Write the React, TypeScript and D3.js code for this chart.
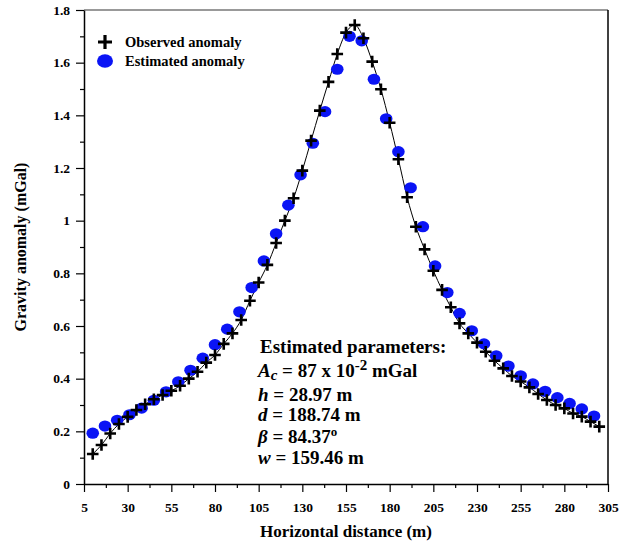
import React, { useEffect, useRef } from "react";
import * as d3 from "d3";

// observed anomaly, every 5 m from 10 to 300
const obsX = d3.range(10, 301, 5);
const obsY = [
  0.114, 0.148, 0.192, 0.228, 0.255, 0.281, 0.303, 0.322, 0.338, 0.354,
  0.373, 0.4, 0.426, 0.461, 0.49, 0.532, 0.572, 0.623, 0.696, 0.765,
  0.832, 0.915, 1.0, 1.085, 1.19, 1.304, 1.418, 1.527, 1.633, 1.714,
  1.743, 1.693, 1.604, 1.499, 1.372, 1.233, 1.089, 0.977, 0.891, 0.81,
  0.737, 0.671, 0.61, 0.572, 0.537, 0.502, 0.468, 0.439, 0.41, 0.389,
  0.367, 0.342, 0.319, 0.3, 0.287, 0.268, 0.256, 0.237, 0.218,
];

// estimated anomaly, every 7 m from 10 to 297
const estX = d3.range(10, 298, 7);
const estY = [
  0.193, 0.22, 0.242, 0.263, 0.288, 0.318, 0.35, 0.388, 0.432, 0.478,
  0.529, 0.588, 0.654, 0.746, 0.847, 0.95, 1.059, 1.174, 1.294, 1.414,
  1.575, 1.7, 1.683, 1.537, 1.387, 1.262, 1.125, 0.977, 0.828, 0.727,
  0.648, 0.582, 0.532, 0.487, 0.448, 0.411, 0.38, 0.352, 0.328, 0.306,
  0.285, 0.258,
];

const xTicks = d3.range(5, 306, 25);
const yTicks = d3.range(0, 1.81, 0.2);
const legendLabels = ["Observed anomaly", "Estimated anomaly"];

const FONT = "'Liberation Serif', 'Times New Roman', serif";

const App = () => {
  const svgRef = useRef<SVGSVGElement>(null);

  useEffect(() => {
    const width = 635, height = 545;
    const margin = { top: 10, right: 27, bottom: 61, left: 84 };

    const svg = d3.select(svgRef.current)
      .attr("width", width)
      .attr("height", height)
      .style("background", "#fff");
    svg.selectAll("*").remove();

    const x = d3.scaleLinear().domain([5, 305]).range([margin.left, width - margin.right]);
    const y = d3.scaleLinear().domain([0, 1.8]).range([height - margin.bottom, margin.top]);

    // frame (top + right)
    svg.append("line")
      .attr("x1", x(5)).attr("x2", x(305)).attr("y1", y(1.8)).attr("y2", y(1.8))
      .attr("stroke", "#777").attr("stroke-width", 1.5);
    svg.append("line")
      .attr("x1", x(305)).attr("x2", x(305)).attr("y1", y(1.8)).attr("y2", y(0))
      .attr("stroke", "#000").attr("stroke-width", 1.5);

    // minor ticks
    const gx = svg.append("g").attr("transform", `translate(0,${y(0)})`);
    gx.call(d3.axisBottom(x).tickValues(d3.range(17.5, 305, 25)).tickSize(4).tickFormat(() => ""));
    gx.select(".domain").remove();
    const gy = svg.append("g").attr("transform", `translate(${x(5)},0)`);
    gy.call(d3.axisLeft(y).tickValues(d3.range(0.1, 1.8, 0.2)).tickSize(4).tickFormat(() => ""));
    gy.select(".domain").remove();

    // major axes
    const xAxis = svg.append("g")
      .attr("transform", `translate(0,${y(0)})`)
      .call(d3.axisBottom(x).tickValues(xTicks).tickSize(8).tickSizeOuter(0).tickPadding(10).tickFormat(d3.format("d")));
    const yAxis = svg.append("g")
      .attr("transform", `translate(${x(5)},0)`)
      .call(d3.axisLeft(y).tickValues(yTicks).tickSize(8).tickSizeOuter(0).tickPadding(6)
        .tickFormat(d => String(+(+d).toFixed(1))));

    [xAxis, yAxis].forEach(g => {
      g.selectAll("text")
        .style("font-family", FONT)
        .style("font-weight", "bold")
        .style("font-size", "13.5px")
        .attr("fill", "#000");
      g.select(".domain").attr("stroke", "#000").attr("stroke-width", 1.5);
    });
    svg.selectAll("g .tick line").attr("stroke", "#000").attr("stroke-width", 1.2);

    // axis titles
    svg.append("text")
      .attr("x", (x(5) + x(305)) / 2)
      .attr("y", 537)
      .attr("text-anchor", "middle")
      .style("font-family", FONT).style("font-weight", "bold").style("font-size", "17px")
      .text("Horizontal distance (m)");
    svg.append("text")
      .attr("transform", `translate(26,${(y(0) + y(1.8)) / 2}) rotate(-90)`)
      .attr("text-anchor", "middle")
      .style("font-family", FONT).style("font-weight", "bold").style("font-size", "16px")
      .text("Gravity anomaly (mGal)");

    // observed line
    const obs = obsX.map((d, i) => [d, obsY[i]] as [number, number]);
    svg.append("path")
      .datum(obs)
      .attr("fill", "none")
      .attr("stroke", "#000")
      .attr("stroke-width", 1)
      .attr("d", d3.line<[number, number]>().x(d => x(d[0])).y(d => y(d[1])).curve(d3.curveMonotoneX));

    // estimated markers
    const est = estX.map((d, i) => [d, estY[i]] as [number, number]);
    svg.append("g").selectAll("ellipse")
      .data(est)
      .enter()
      .append("ellipse")
      .attr("cx", d => x(d[0]))
      .attr("cy", d => y(d[1]))
      .attr("rx", 6.3)
      .attr("ry", 5.6)
      .attr("fill", "#0a14f5");

    // observed markers
    const drawPlus = (g: d3.Selection<any, any, any, any>, cx: number, cy: number, s: number, w: number) => {
      g.append("path")
        .attr("d", `M${cx - s},${cy}H${cx + s}M${cx},${cy - s}V${cy + s}`)
        .attr("stroke", "#000")
        .attr("stroke-width", w)
        .attr("fill", "none");
    };
    const pg = svg.append("g");
    obs.forEach(d => drawPlus(pg, x(d[0]), y(d[1]), 5.8, 2.6));

    // legend
    const lg = svg.append("g");
    drawPlus(lg, 105, 42, 7, 3.2);
    lg.append("ellipse").attr("cx", 105).attr("cy", 61).attr("rx", 8).attr("ry", 6.8).attr("fill", "#0a14f5");
    legendLabels.forEach((t, i) => {
      lg.append("text")
        .attr("x", 125)
        .attr("y", 47 + i * 19)
        .style("font-family", FONT).style("font-weight", "bold").style("font-size", "14.5px")
        .text(t);
    });

    // parameters box
    svg.append("text")
      .attr("x", 260).attr("y", 353)
      .style("font-family", FONT).style("font-weight", "bold").style("font-size", "19px")
      .text("Estimated parameters:");

    const l2 = svg.append("text")
      .attr("x", 258).attr("y", 377)
      .style("font-family", FONT).style("font-weight", "bold").style("font-size", "19px");
    l2.append("tspan").style("font-style", "italic").text("A");
    l2.append("tspan").style("font-style", "italic").style("font-size", "15px").attr("dy", 3).text("c");
    l2.append("tspan").attr("dy", -3).text(" = 87 x 10");
    l2.append("tspan").style("font-size", "15px").attr("dy", -7).text("-2");
    l2.append("tspan").attr("dy", 7).text(" mGal");

    const lines: [string, string, number][] = [
      ["h", " = 28.97 m", 401],
      ["d", " = 188.74 m", 421],
      ["\u03b2", " = 84.37", 443],
      ["w", " = 159.46 m", 464],
    ];
    lines.forEach(([sym, rest, yy]) => {
      const t = svg.append("text")
        .attr("x", 258).attr("y", yy)
        .style("font-family", FONT).style("font-weight", "bold").style("font-size", "19px");
      t.append("tspan").style("font-style", "italic").text(sym);
      t.append("tspan").text(rest);
      if (sym === "\u03b2") {
        t.append("tspan").style("font-size", "13px").attr("dy", -7).text("o");
      }
    });
  }, []);

  return (
    <svg ref={svgRef} style={{ position: "absolute", left: 0, top: 0 }}></svg>
  );
};

export default App;
